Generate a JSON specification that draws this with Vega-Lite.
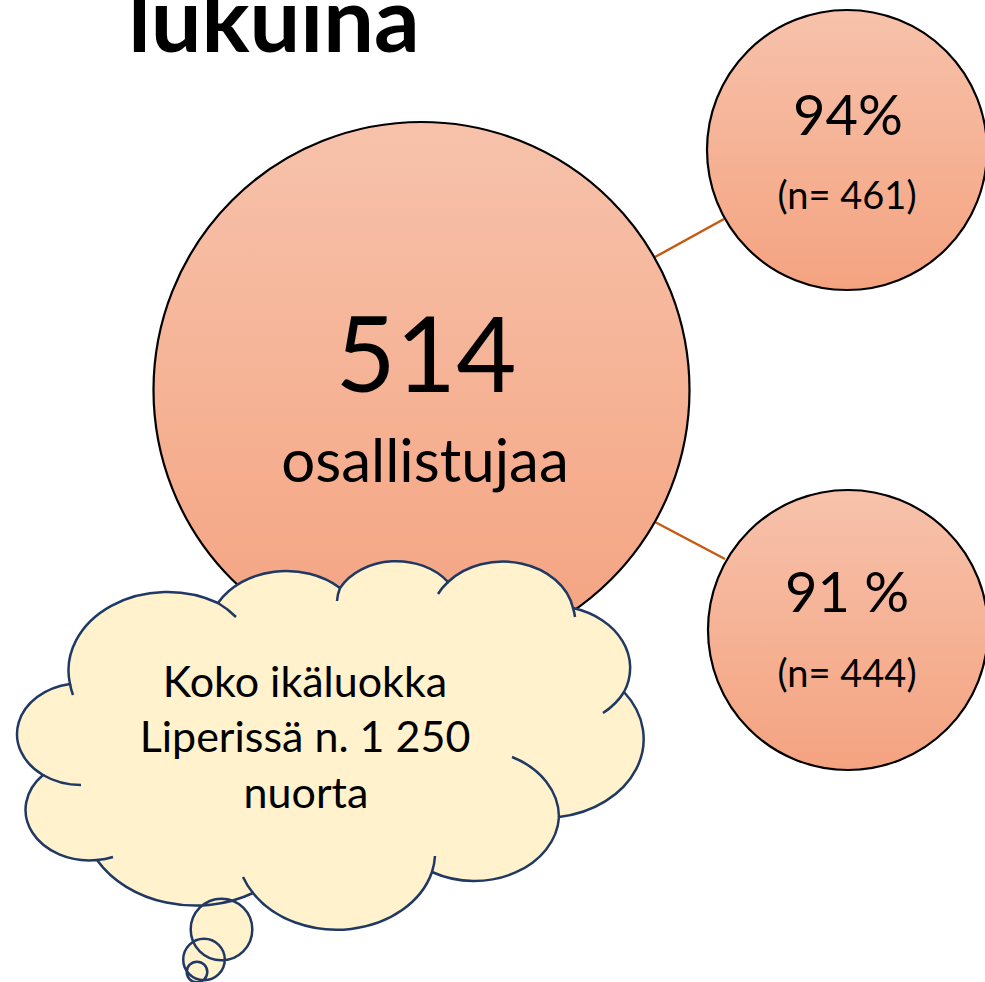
{
  "$schema": "https://vega.github.io/schema/vega-lite/v6.json",
  "width": 985,
  "height": 982,
  "padding": 0,
  "autosize": {"type": "none"},
  "background": "white",
  "config": {"view": {"stroke": null}},
  "datasets": {
    "links": [
      {"x": 655, "y": 257, "x2": 724, "y2": 219},
      {"x": 655, "y": 522, "x2": 725, "y2": 559}
    ],
    "circles": [
      {"k": "main", "x": 421.5, "y": 390},
      {"k": "sub", "x": 847, "y": 150},
      {"k": "sub", "x": 848, "y": 630}
    ],
    "cloud": [{"x": 328, "y": 746}],
    "texts": [
      {"t": "lukuina", "x": 274, "y": 52, "k": "title"},
      {"t": "514", "x": 426, "y": 392, "k": "big"},
      {"t": "osallistujaa", "x": 425, "y": 482, "k": "sub"},
      {"t": "94%", "x": 848, "y": 135, "k": "pct"},
      {"t": "(n= 461)", "x": 847, "y": 209, "k": "n"},
      {"t": "91 %", "x": 847, "y": 612, "k": "pct"},
      {"t": "(n= 444)", "x": 847, "y": 687, "k": "n"},
      {"t": "Koko ikäluokka", "x": 305, "y": 697, "k": "cloud"},
      {"t": "Liperissä n. 1 250", "x": 305, "y": 752, "k": "cloud"},
      {"t": "nuorta", "x": 306, "y": 808, "k": "cloud"}
    ]
  },
  "encoding": {
    "x": {"field": "x", "type": "quantitative", "scale": {"domain": [0, 985], "nice": false, "zero": false}, "axis": null},
    "y": {"field": "y", "type": "quantitative", "scale": {"domain": [0, 982], "nice": false, "zero": false, "reverse": true}, "axis": null}
  },
  "layer": [
    {
      "data": {"name": "links"},
      "mark": {"type": "rule", "color": "#C55A11", "strokeWidth": 2.5},
      "encoding": {"x2": {"field": "x2"}, "y2": {"field": "y2"}}
    },
    {
      "data": {"name": "circles"},
      "transform": [{"filter": "datum.k === 'main'"}],
      "mark": {"type": "point", "shape": "circle", "filled": true, "opacity": 1, "size": 287296,
        "fill": {"gradient": "linear", "x1": 0, "y1": 0, "x2": 0, "y2": 1, "stops": [{"offset": 0, "color": "#F7C2AB"}, {"offset": 1, "color": "#F4A380"}]},
        "stroke": "#000000", "strokeWidth": 2.2}
    },
    {
      "data": {"name": "circles"},
      "transform": [{"filter": "datum.k === 'sub'"}],
      "mark": {"type": "point", "shape": "circle", "filled": true, "opacity": 1, "size": 78400,
        "fill": {"gradient": "linear", "x1": 0, "y1": 0, "x2": 0, "y2": 1, "stops": [{"offset": 0, "color": "#F7C2AB"}, {"offset": 1, "color": "#F4A380"}]},
        "stroke": "#000000", "strokeWidth": 2.2}
    },
    {
      "data": {"name": "cloud"},
      "mark": {"type": "point", "filled": true, "opacity": 1, "size": 4, "fill": "#FFF2CC", "stroke": "#1F3864", "strokeWidth": 2.5,
        "shape": "M -258 -62 A 98.9 78.5 0 0 1 -110 -143 A 78.1 62.1 0 0 1 12 -158 A 64 50.8 0 0 1 120 -164 A 71.2 56.3 0 0 1 245 -138 A 78.1 62.1 0 0 1 296 -54 A 99.3 78.8 0 0 1 231 71 A 84.8 67.2 0 0 1 104 126 A 98.9 78.7 0 0 1 -75 147 A 113.1 90.1 0 0 1 -231 114 A 63.9 50.6 0 0 1 -285 29 A 63.7 50.8 0 0 1 -258 -62 Z M -137.3 183.5 A 30.8 30.8 0 1 1 -75.7 183.5 A 30.8 30.8 0 1 1 -137.3 183.5 Z M -144.8 213.5 A 20.8 20.8 0 1 1 -103.2 213.5 A 20.8 20.8 0 1 1 -144.8 213.5 Z M -141.3 226 A 10.3 10.3 0 1 1 -120.7 226 A 10.3 10.3 0 1 1 -141.3 226 Z"}
    },
    {
      "data": {"name": "cloud"},
      "mark": {"type": "point", "filled": false, "opacity": 1, "size": 4, "stroke": "#1F3864", "strokeWidth": 2.5, "strokeCap": "butt",
        "shape": "M -247 39 A 63.7 50.8 0 0 1 -285 29 M -215 111 A 63.9 50.6 0 0 1 -231 114 M -75 147 A 98.9 78.7 0 0 1 -85 131 M 107 110 A 98.9 78.7 0 0 1 104 126 M 184 11 A 84.8 67.2 0 0 1 231 71 M 296 -54 A 78.1 62.1 0 0 1 275 -33 M 245 -138 A 71.2 56.3 0 0 1 247 -129 M 110 -152 A 71.2 56.3 0 0 1 120 -164 M 9 -145 A 64 50.8 0 0 1 12 -158 M -110 -143 A 98.9 78.5 0 0 1 -92 -129 M -255 -51 A 98.9 78.5 0 0 1 -258 -62"}
    },
    {
      "data": {"name": "texts"},
      "transform": [{"filter": "datum.k === 'title'"}],
      "mark": {"type": "text", "font": "Lato", "fontWeight": "bold", "fontSize": 90, "align": "center", "baseline": "alphabetic", "color": "#000000"},
      "encoding": {"text": {"field": "t"}}
    },
    {
      "data": {"name": "texts"},
      "transform": [{"filter": "datum.k === 'big'"}],
      "mark": {"type": "text", "font": "Lato", "fontSize": 104, "align": "center", "baseline": "alphabetic", "color": "#000000"},
      "encoding": {"text": {"field": "t"}}
    },
    {
      "data": {"name": "texts"},
      "transform": [{"filter": "datum.k === 'sub'"}],
      "mark": {"type": "text", "font": "Lato", "fontSize": 60, "align": "center", "baseline": "alphabetic", "color": "#000000"},
      "encoding": {"text": {"field": "t"}}
    },
    {
      "data": {"name": "texts"},
      "transform": [{"filter": "datum.k === 'pct'"}],
      "mark": {"type": "text", "font": "Lato", "fontSize": 56, "align": "center", "baseline": "alphabetic", "color": "#000000"},
      "encoding": {"text": {"field": "t"}}
    },
    {
      "data": {"name": "texts"},
      "transform": [{"filter": "datum.k === 'n'"}],
      "mark": {"type": "text", "font": "Lato", "fontSize": 38, "align": "center", "baseline": "alphabetic", "color": "#000000"},
      "encoding": {"text": {"field": "t"}}
    },
    {
      "data": {"name": "texts"},
      "transform": [{"filter": "datum.k === 'cloud'"}],
      "mark": {"type": "text", "font": "Lato", "fontSize": 43, "align": "center", "baseline": "alphabetic", "color": "#000000"},
      "encoding": {"text": {"field": "t"}}
    }
  ]
}
